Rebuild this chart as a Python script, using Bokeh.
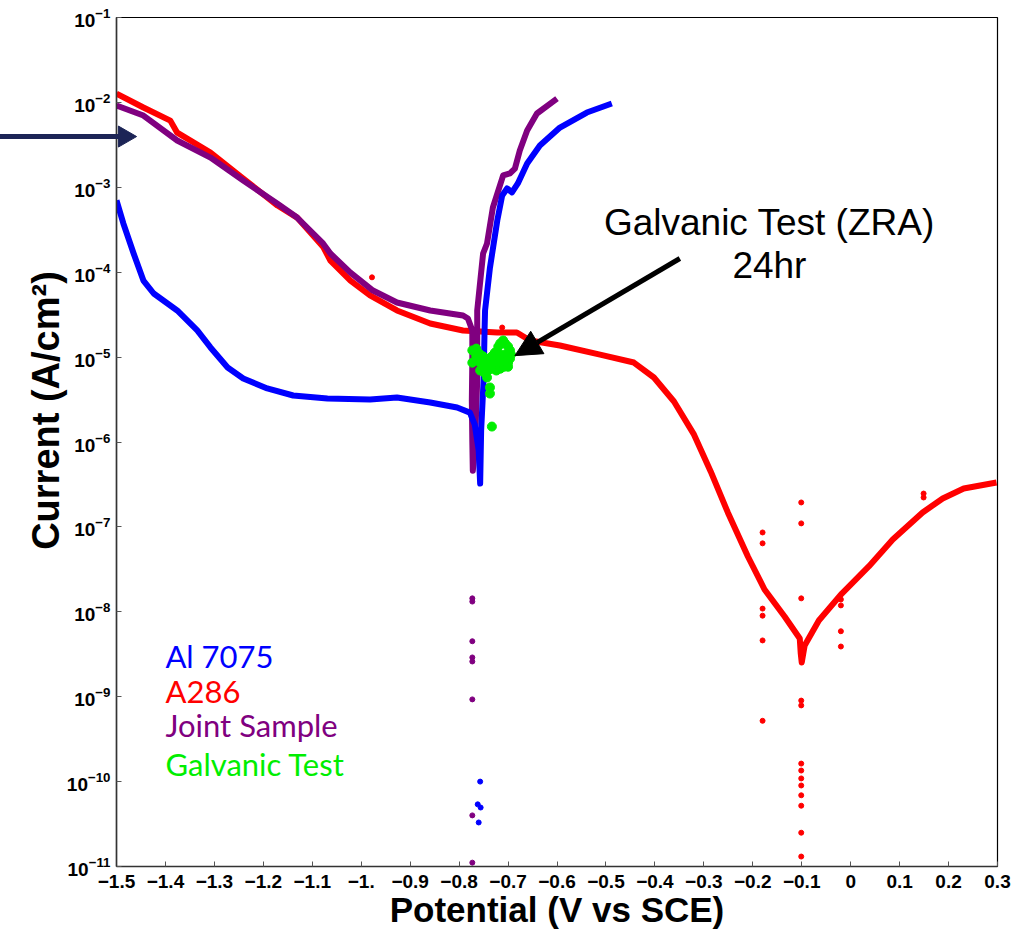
from bokeh.plotting import figure
from bokeh.models import Arrow, NormalHead, Label, FixedTicker, LogTickFormatter
from bokeh.core.properties import value
from bokeh.embed import file_html
from bokeh.resources import INLINE

# ---------------- data (Potential V vs SCE, Current A/cm^2) ----------------
a286_v = [-1.500, -1.445, -1.390, -1.376, -1.308, -1.241, -1.171, -1.131, -1.078, -1.063,
          -1.022, -0.982, -0.927, -0.859, -0.792, -0.722, -0.682, -0.655, -0.594, -0.512,
          -0.443, -0.402, -0.361, -0.320, -0.286, -0.251, -0.210, -0.176, -0.135, -0.104,
          -0.102, -0.100, -0.094, -0.065, -0.018, 0.037, 0.086, 0.147, 0.188, 0.231, 0.298]
a286_i = [1.27e-2, 8.7e-3, 6.1e-3, 4.4e-3, 2.57e-3, 1.27e-3, 6.1e-4, 4.4e-4, 2.0e-4, 1.37e-4,
          7.98e-5, 5.32e-5, 3.54e-5, 2.49e-5, 2.06e-5, 1.95e-5, 1.95e-5, 1.57e-5, 1.37e-5, 1.07e-5,
          8.63e-6, 5.75e-6, 3.00e-6, 1.22e-6, 4.50e-7, 1.48e-7, 4.48e-8, 1.83e-8, 8.81e-9, 4.84e-9,
          3.23e-9, 2.53e-9, 4.01e-9, 7.9e-9, 1.64e-8, 3.42e-8, 7.11e-8, 1.48e-7, 2.16e-7, 2.83e-7, 3.33e-7]
a286_dot_v = [-0.101] * 13 + [-0.180] * 6 + [-0.020] * 4 + [0.149, 0.149, -0.978, -0.712]
a286_dot_i = [1.94e-7, 1.10e-7, 1.44e-8, 9.0e-10, 7.9e-10, 1.63e-10, 1.35e-10, 1.09e-10, 9.0e-11,
              6.9e-11, 5.2e-11, 2.5e-11, 1.31e-11,
              8.6e-8, 6.4e-8, 1.09e-8, 9.0e-9, 4.6e-9, 5.2e-10,
              1.40e-8, 1.19e-8, 5.9e-9, 3.9e-9,
              2.47e-7, 2.22e-7, 8.7e-5, 2.23e-5]

joint_v = [-1.500, -1.445, -1.376, -1.308, -1.241, -1.171, -1.131, -1.078, -1.063, -1.022,
           -0.976, -0.927, -0.859, -0.792, -0.782, -0.773, -0.773, -0.774, -0.773, -0.772,
           -0.768, -0.765, -0.763, -0.763, -0.763, -0.751, -0.743, -0.731, -0.710, -0.696,
           -0.686, -0.676, -0.661, -0.641, -0.600]
joint_i = [9.2e-3, 7.0e-3, 3.56e-3, 2.24e-3, 1.20e-3, 6.4e-4, 4.4e-4, 2.18e-4, 1.66e-4, 9.9e-5,
           6.08e-5, 4.40e-5, 3.54e-5, 3.09e-5, 2.85e-5, 2.06e-5, 9.1e-6, 3.08e-6, 1.0e-6, 4.6e-7,
           7.9e-7, 2.5e-6, 5.3e-6, 2.06e-5, 3.54e-5, 1.66e-4, 2.18e-4, 5.78e-4, 1.38e-3, 1.46e-3,
           1.66e-3, 2.71e-3, 4.67e-3, 7.4e-3, 1.11e-2]
joint_dot_v = [-0.773] * 8
joint_dot_i = [1.44e-8, 1.32e-8, 4.5e-9, 2.9e-9, 2.6e-9, 9.3e-10, 4.0e-11, 1.11e-11]

al_v = [-1.500, -1.486, -1.465, -1.445, -1.424, -1.376, -1.335, -1.308, -1.273, -1.241,
        -1.192, -1.139, -1.069, -0.982, -0.927, -0.859, -0.804, -0.778, -0.768, -0.760,
        -0.757, -0.755, -0.750, -0.748, -0.747, -0.737, -0.722, -0.712, -0.702, -0.692,
        -0.680, -0.661, -0.635, -0.594, -0.539, -0.488]
al_i = [7.0e-4, 3.75e-4, 1.66e-4, 7.98e-5, 5.61e-5, 3.54e-5, 2.06e-5, 1.30e-5, 7.55e-6, 5.6e-6,
        4.27e-6, 3.53e-6, 3.25e-6, 3.17e-6, 3.34e-6, 2.92e-6, 2.55e-6, 2.22e-6, 1.6e-6, 8.0e-7,
        3.24e-7, 1.36e-6, 5.3e-6, 2.06e-5, 3.54e-5, 1.13e-4, 4.06e-4, 8.0e-4, 9.7e-4, 8.7e-4,
        1.11e-3, 1.91e-3, 3.10e-3, 5.06e-3, 7.6e-3, 9.7e-3]
al_dot_v = [-0.757, -0.762, -0.756, -0.760]
al_dot_i = [1.0e-10, 5.4e-11, 4.95e-11, 3.3e-11]

galv_v = [-0.773, -0.765, -0.761, -0.757, -0.751, -0.745, -0.739, -0.731, -0.724, -0.718,
          -0.712, -0.706, -0.700, -0.696, -0.694, -0.696, -0.700, -0.706, -0.710, -0.716,
          -0.720, -0.727, -0.733, -0.739, -0.745, -0.751, -0.757, -0.749, -0.741, -0.733,
          -0.724, -0.716, -0.708, -0.700, -0.765, -0.757, -0.751, -0.716, -0.706, -0.724,
          -0.712, -0.700, -0.730, -0.720, -0.773, -0.743, -0.737, -0.737, -0.733]
galv_i = [1.20e-5, 1.26e-5, 1.13e-5, 1.07e-5, 1.02e-5, 9.1e-6, 8.6e-6, 8.2e-6, 8.2e-6, 7.7e-6,
          7.7e-6, 8.2e-6, 8.6e-6, 9.6e-6, 1.07e-5, 1.20e-5, 1.33e-5, 1.45e-5, 1.57e-5, 1.45e-5,
          1.33e-5, 1.13e-5, 1.02e-5, 9.6e-6, 8.6e-6, 7.3e-6, 6.95e-6, 6.6e-6, 6.95e-6, 7.3e-6,
          6.95e-6, 7.3e-6, 7.7e-6, 7.7e-6, 1.02e-5, 8.6e-6, 8.6e-6, 1.07e-5, 1.07e-5, 9.6e-6,
          9.1e-6, 1.02e-5, 9.1e-6, 8.6e-6, 8.6e-6, 5.75e-6, 4.39e-6, 3.72e-6, 1.52e-6]

x_ticks = [-1.5, -1.4, -1.3, -1.2, -1.1, -1.0, -0.9, -0.8, -0.7, -0.6, -0.5, -0.4, -0.3,
           -0.2, -0.1, 0.0, 0.1, 0.2, 0.3]
x_tick_labels = ["−1.5", "−1.4", "−1.3", "−1.2", "−1.1", "−1.", "−0.9", "−0.8", "−0.7",
                 "−0.6", "−0.5", "−0.4", "−0.3", "−0.2", "−0.1", "0", "0.1", "0.2", "0.3"]
y_ticks = [1e-11, 1e-10, 1e-9, 1e-8, 1e-7, 1e-6, 1e-5, 1e-4, 1e-3, 1e-2, 1e-1]

legend_names = ["Al 7075", "A286", "Joint Sample", "Galvanic Test"]
legend_colors = ["#0000ff", "#ff0000", "#800080", "#00ee00"]

NAVY = "#1c2456"

# ---------------- figure ----------------
p = figure(frame_width=881, frame_height=849, x_range=(-1.5, 0.3), y_range=(1e-11, 1e-1),
           y_axis_type="log", output_backend="svg", toolbar_location=None,
           min_border_left=116, min_border_top=17, min_border_right=17, min_border_bottom=5)
p.grid.visible = False
p.outline_line_color = "black"
p.outline_line_width = 1.2
p.background_fill_color = "white"
p.border_fill_color = "white"

p.xaxis.ticker = FixedTicker(ticks=x_ticks)
p.xaxis.major_label_overrides = dict(zip(x_ticks, x_tick_labels))
p.yaxis.ticker = FixedTicker(ticks=y_ticks)
p.yaxis.formatter = LogTickFormatter()

for ax in (p.xaxis[0], p.yaxis[0]):
    ax.axis_line_color = "#333333"
    ax.axis_line_width = 1.5
    ax.major_tick_line_color = "#555555"
    ax.major_tick_in = 5
    ax.major_tick_out = 0
    ax.minor_tick_line_color = None
    ax.major_label_text_font = "Liberation Sans"
    ax.major_label_text_font_style = "bold"
    ax.major_label_text_font_size = "19px"
    ax.major_label_text_color = "black"
    ax.axis_label_text_font = "Liberation Sans"
    ax.axis_label_text_font_style = "bold"
    ax.axis_label_text_color = "black"

p.xaxis.axis_label = "Potential (V vs SCE)"
p.xaxis.axis_label_text_font_size = "35px"
p.xaxis.major_label_standoff = 8
p.xaxis.axis_label_standoff = -1
p.yaxis.major_label_standoff = 6

# y-axis title (placed slightly above the frame centre, as in the original)
p.text(x=[-1.6449], y=[2.35e-6], text=["Current (A/cm²)"], angle=1.5708,
       text_align="center", text_baseline="middle", text_color="black",
       text_font=value("Liberation Sans"), text_font_style="bold",
       text_font_size=value("38px"), level="overlay")

# curves
p.line(a286_v, a286_i, line_color="#ff0000", line_width=6, line_join="round")
p.scatter(a286_dot_v, a286_dot_i, size=5, color="#ff0000")
p.line(joint_v, joint_i, line_color="#800080", line_width=6, line_join="round")
p.scatter(joint_dot_v, joint_dot_i, size=5, color="#800080")
p.line(al_v, al_i, line_color="#0000ff", line_width=6, line_join="round")
p.scatter(al_dot_v, al_dot_i, size=5, color="#0000ff")
p.scatter(galv_v, galv_i, size=9, color="#00ee00")

# legend texts
legend_y = [3.05e-9, 1.18e-9, 4.58e-10, 1.63e-10]
for name, col, yy in zip(legend_names, legend_colors, legend_y):
    p.add_layout(Label(x=-1.40, y=yy, text=name, text_color=col, text_font="Lato",
                       text_font_size="31px", text_baseline="middle", text_align="left"))

# annotation
p.add_layout(Label(x=-0.166, y=3.85e-4, text="Galvanic Test (ZRA)", text_font="Liberation Sans",
                   text_font_size="37px", text_baseline="middle", text_align="center",
                   text_color="black"))
p.add_layout(Label(x=-0.166, y=1.20e-4, text="24hr", text_font="Liberation Sans",
                   text_font_size="37px", text_baseline="middle", text_align="center",
                   text_color="black"))
p.add_layout(Arrow(end=NormalHead(size=26, fill_color="black", line_color="black"),
                   x_start=-0.349, y_start=1.45e-4, x_end=-0.686, y_end=1.04e-5,
                   line_color="black", line_width=5))

# pointer arrow from the left margin (drawn at overlay level so it is not clipped)
p.segment(x0=[-1.75], y0=[3.96e-3], x1=[-1.49], y1=[3.96e-3], line_color=NAVY,
          line_width=5, level="overlay")
p.scatter(x=[-1.4837], y=[3.96e-3], marker="triangle", size=21, angle=-1.5708,
          color=NAVY, level="overlay")

open("out.html", "w").write(file_html(p, INLINE))
